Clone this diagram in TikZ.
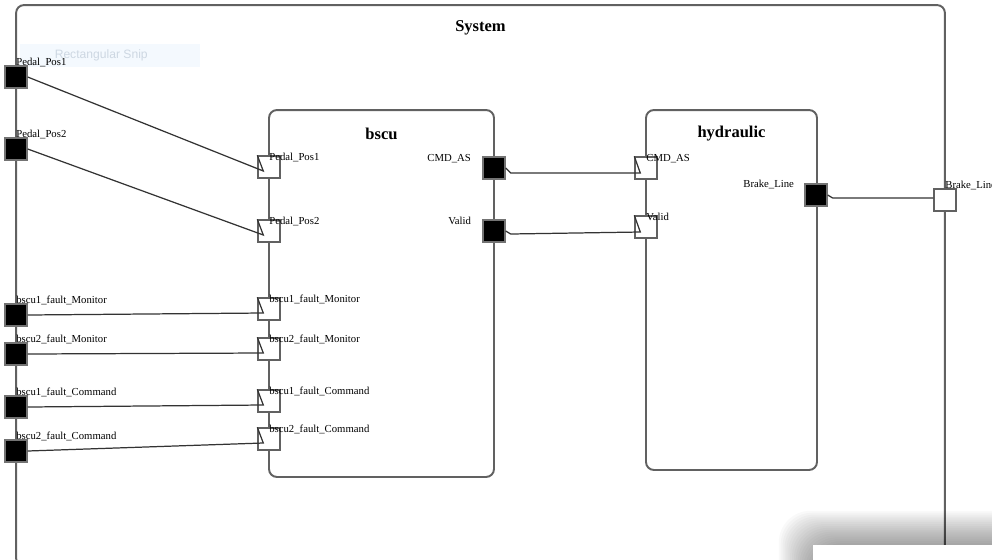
\documentclass[tikz,border=0pt]{standalone}
\usepackage{fontspec}
\setmainfont{Liberation Serif}
\newfontfamily\snipfont{Liberation Sans}

\begin{document}
\begin{tikzpicture}[
    x=0.02cm, y=-0.02cm,
    block/.style={rectangle, draw=black!62, line width=1.1pt, rounded corners=4.5pt, inner sep=0pt},
    title/.style={font=\fontsize{9.4}{11}\selectfont\bfseries, inner sep=0pt},
    outport/.style={rectangle, draw=black!55, fill=black, line width=0.8pt, minimum size=0.44cm, inner sep=0pt},
    inport/.style={rectangle, draw=black!62, fill=white, line width=0.8pt, minimum size=0.44cm, inner sep=0pt},
    plabel/.style={font=\fontsize{6.1}{7}\selectfont, inner sep=0pt},
    conn/.style={draw=black!80, line width=0.7pt}
]
    \clip (0,0) rectangle (992,559);
    \node[block, minimum width=18.58cm, minimum height=11.22cm] (system) at (480.5,285.5) {};
    \node[title] (system-t) at ([yshift=-0.48cm]system.north) {System};
    \node[fill={rgb,255:red,244;green,249;blue,254}, minimum width=3.6cm, minimum height=0.46cm, inner sep=0pt,
          text={rgb,255:red,205;green,215;blue,226}, font=\snipfont\fontsize{6.9}{8}\selectfont] (snip) at (110,55.5) {\hspace*{-0.35cm}Rectangular Snip};

    \node[block, minimum width=4.5cm, minimum height=7.34cm] (bscu) at (381.5,293.5) {};
    \node[title] (bscu-t) at ([yshift=-0.5cm]bscu.north) {bscu};
    \node[block, minimum width=3.42cm, minimum height=7.2cm] (hydraulic) at (731.5,290) {};
    \node[title] (hydraulic-t) at ([yshift=-0.48cm]hydraulic.north) {hydraulic};

    \foreach \n/\y/\t in {sp1/77/Pedal\_Pos1, sp2/149/Pedal\_Pos2, sm1/315/bscu1\_fault\_Monitor,
                          sm2/354/bscu2\_fault\_Monitor, sc1/407/bscu1\_fault\_Command, sc2/451/bscu2\_fault\_Command}{
        \node[outport] (\n) at (16,\y) {};
        \node[plabel, anchor=base west] (\n-l) at (\n.north) {\t};
    }
    \foreach \n/\y/\t in {bp1/167/Pedal\_Pos1, bp2/231/Pedal\_Pos2, bm1/309/bscu1\_fault\_Monitor,
                          bm2/349/bscu2\_fault\_Monitor, bc1/401/bscu1\_fault\_Command, bc2/439/bscu2\_fault\_Command}{
        \node[inport] (\n) at (269,\y) {};
        \node[plabel, anchor=base west] (\n-l) at ([yshift=-0.1cm]\n.north) {\t};
    }
    \foreach \n/\y/\t in {bcmd/168/CMD\_AS, bval/231/Valid}{
        \node[outport] (\n) at (494,\y) {};
        \node[plabel, anchor=base east] (\n-l) at ([xshift=-0.22cm,yshift=-0.1cm]\n.north west) {\t};
    }
    \foreach \n/\y/\t in {hcmd/168/CMD\_AS, hval/227/Valid}{
        \node[inport] (\n) at (646,\y) {};
        \node[plabel, anchor=base west] (\n-l) at ([yshift=-0.1cm]\n.north) {\t};
    }
    \node[outport] (hbrk) at (816,195) {};
    \node[plabel, anchor=base east] (hbrk-l) at ([xshift=-0.2cm,yshift=-0.09cm]hbrk.north west) {Brake\_Line};
    \node[inport] (sbrk) at (945,200) {};
    \node[plabel, anchor=base west] (sbrk-l) at ([yshift=-0.01cm]sbrk.north) {Brake\_Line};

    \foreach \a/\b in {sp1/bp1, sp2/bp2, sm1/bm1, sm2/bm2, sc1/bc1, sc2/bc2}
        \draw[conn] (\a.east) -- ([xshift=0.12cm,yshift=-0.08cm]\b.west) -- (\b.north west);
    \draw[conn] (bcmd.east) -- ++(5,5) -- ([xshift=0.12cm,yshift=-0.1cm]hcmd.west) -- (hcmd.north west);
    \draw[conn] (bval.east) -- ++(5,3) -- ([xshift=0.12cm,yshift=-0.1cm]hval.west) -- (hval.north west);
    \draw[conn] (hbrk.east) -- ++(5,3) -- ([yshift=0.04cm]sbrk.west);

    \foreach \i in {1,...,18}
        \fill[black, opacity=0.022, rounded corners=18pt] (813-1.9*\i,545-1.9*\i) rectangle (1040,620);
    \fill[white] (813,545) rectangle (1000,570);
\end{tikzpicture}
\end{document}
